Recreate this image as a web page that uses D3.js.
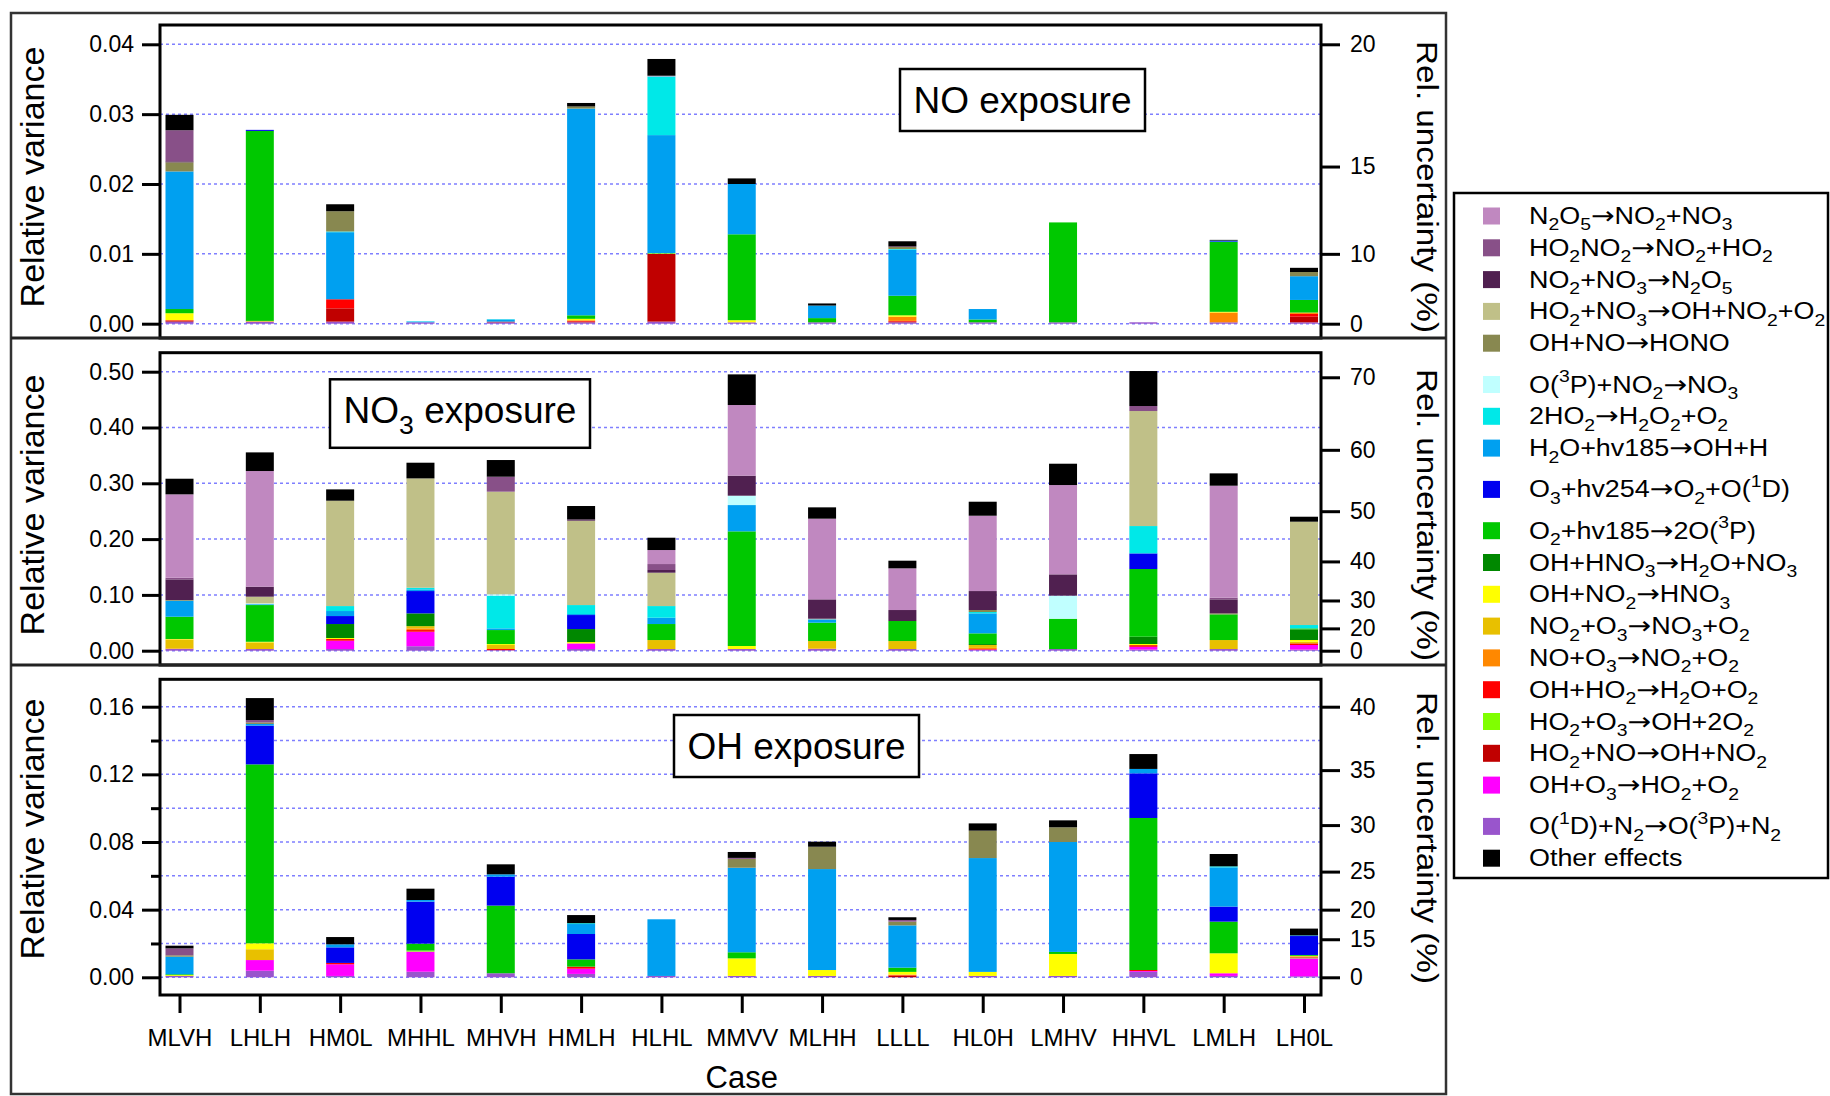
<!DOCTYPE html>
<html>
<head>
<meta charset="utf-8">
<script src="https://cdn.jsdelivr.net/npm/d3@7"></script>
<style>
  body { margin: 0; background: #fff; }
  svg { display: block; }
</style>
</head>
<body>
<svg id="chart" width="1830" height="1096"></svg>
<script>
// ---- data ---------------------------------------------------------------
const cases = ["MLVH","LHLH","HM0L","MHHL","MHVH","HMLH","HLHL","MMVV","MLHH","LLLL","HL0H","LMHV","HHVL","LMLH","LH0L"];

// reaction labels in legend order ("_x" = subscript, "^x" = superscript)
const seriesLabels = [
  "N_2O_5→NO_2+NO_3",
  "HO_2NO_2→NO_2+HO_2",
  "NO_2+NO_3→N_2O_5",
  "HO_2+NO_3→OH+NO_2+O_2",
  "OH+NO→HONO",
  "O(^3P)+NO_2→NO_3",
  "2HO_2→H_2O_2+O_2",
  "H_2O+hv185→OH+H",
  "O_3+hv254→O_2+O(^1D)",
  "O_2+hv185→2O(^3P)",
  "OH+HNO_3→H_2O+NO_3",
  "OH+NO_2→HNO_3",
  "NO_2+O_3→NO_3+O_2",
  "NO+O_3→NO_2+O_2",
  "OH+HO_2→H_2O+O_2",
  "HO_2+O_3→OH+2O_2",
  "HO_2+NO→OH+NO_2",
  "OH+O_3→HO_2+O_2",
  "O(^1D)+N_2→O(^3P)+N_2",
  "Other effects"
];

const seriesColors = [
  "#C088C0","#885088","#502050","#C0C088","#888850",
  "#C0FFFF","#00E8E8","#00A0F0","#0000F0","#00C800",
  "#008800","#FFFF00","#E8C000","#FF8800","#FF0000",
  "#80FF00","#C00000","#FF00FF","#9955CC","#000000"
];

// relative variance contributions, one row per reaction (legend order), one column per case
const noExposure = [
  [0,0,0,0,0,0,0.0001,0,0,0,0,0,0,0,0],
  [0.00445,0,0,0,0,0,0,0,0,0,0,0,0,0,0],
  [0.00015,0,0,0,0,0,0,0,0,0.0001,0,0,0,0,0],
  [0,0,0,0,0,0,0,0,0,0,0,0,0,0,0],
  [0.0013,0,0.0029,0,0,0.0003,0,0,0,0.0003,0,0,0,0,0.0006],
  [0,0,0,0,0,0,0,0,0,0,0,0,0,0,0],
  [0,0,0.0001,0.00005,0.00005,0,0.0084,0,0,0.0001,0,0,0,0,0],
  [0.0197,0,0.0096,0.0001,0.0003,0.0296,0.0169,0.0072,0.0018,0.0066,0.0015,0,0,0.0001,0.0034],
  [0,0.00015,0,0,0,0,0,0,0,0,0,0,0,0.0001,0],
  [0.0006,0.0272,0,0,0,0.0005,0,0.0123,0.0006,0.0028,0.0004,0.0143,0,0.0100,0.0018],
  [0,0,0,0,0,0,0,0,0,0,0,0,0,0,0],
  [0.0010,0,0,0,0,0.0002,0,0.0003,0,0.0002,0,0,0,0.0001,0],
  [0,0.0001,0,0,0,0,0,0,0,0,0,0,0,0,0],
  [0,0,0,0,0,0.0001,0,0,0,0.0006,0,0,0,0.0014,0.0002],
  [0.0001,0,0.0013,0,0,0.0001,0,0,0,0.0001,0,0,0,0,0.0004],
  [0,0,0,0,0,0,0.0001,0,0,0,0,0,0,0,0],
  [0.0001,0,0.0019,0,0.0001,0.0001,0.0097,0,0,0.0001,0,0,0,0,0.0008],
  [0,0,0,0,0,0,0,0,0,0,0,0,0,0,0],
  [0.0003,0.0003,0.0003,0.0002,0.0002,0.0002,0.0003,0.0002,0.0002,0.0002,0.0002,0.0002,0.0002,0.0002,0.0002],
  [0.0022,0,0.0010,0,0,0.0005,0.0024,0.0008,0.0003,0.0007,0,0,0,0.0001,0.0006]
];

const no3Exposure = [
  [0.1494,0.2073,0,0,0,0,0.0251,0.1267,0.1446,0.0747,0.1350,0.1601,0,0.2007,0],
  [0.0030,0,0,0,0.0268,0,0.0107,0,0,0,0,0,0.0090,0.0030,0],
  [0.0370,0.0179,0,0,0,0.0024,0.0048,0.0358,0.0347,0.0197,0.0340,0.0382,0,0.0251,0],
  [0,0.0120,0.1888,0.1959,0.1840,0.1512,0.0598,0,0.0011,0,0,0,0.2061,0,0.1852],
  [0.0012,0,0,0,0,0,0,0,0,0,0.0036,0,0,0.0018,0],
  [0,0.0015,0,0,0.0024,0,0,0.0168,0,0,0,0.0413,0,0,0],
  [0,0,0.0089,0.0030,0.0586,0.0161,0.0209,0,0,0,0.0024,0,0.0490,0,0.0060],
  [0.0287,0.0015,0.0090,0.0030,0.0030,0.0018,0.0113,0.0471,0.0060,0,0.0358,0,0,0,0],
  [0,0,0.0143,0.0400,0,0.0251,0,0,0,0,0,0,0.0280,0,0],
  [0.0399,0.0658,0,0,0.0251,0,0.0287,0.2055,0.0329,0.0359,0.0192,0.0543,0.1213,0.0460,0.0018],
  [0,0,0.0251,0.0229,0,0.0233,0,0,0,0,0.0017,0,0.0131,0,0.0190],
  [0.0007,0.0011,0.0018,0,0.0017,0.0024,0,0.0054,0,0,0,0,0.0020,0,0.0030],
  [0.0163,0.0119,0,0.0040,0.0072,0,0.0161,0,0.0133,0.0143,0.0052,0,0,0.0161,0.0030],
  [0.0010,0,0,0.0030,0,0,0,0,0.0010,0,0.0020,0,0,0,0],
  [0,0,0.0030,0.0030,0.0020,0,0,0,0,0,0.0010,0,0.0030,0,0.0030],
  [0,0,0,0,0,0,0,0,0,0,0,0,0,0,0],
  [0,0,0,0,0,0,0,0,0,0,0,0,0,0,0],
  [0,0,0.0149,0.0260,0,0.0101,0,0,0,0,0.0010,0,0.0050,0,0.0082],
  [0.003,0.003,0.003,0.008,0.001,0.003,0.003,0.003,0.003,0.003,0.001,0.003,0.002,0.003,0.002],
  [0.0280,0.0334,0.0203,0.0281,0.0299,0.0239,0.0221,0.0549,0.0203,0.0137,0.0251,0.0382,0.0627,0.0221,0.0089]
];

const ohExposure = [
  [0,0,0,0,0,0,0,0,0,0,0,0,0,0,0],
  [0.0041,0.0014,0,0,0,0,0,0.0006,0,0.0010,0,0,0,0,0],
  [0,0,0,0,0,0,0,0,0,0,0,0,0,0,0],
  [0,0,0,0,0,0,0,0,0,0,0,0,0,0,0],
  [0.0008,0.0009,0,0,0,0,0,0.0052,0.0132,0.0022,0.0162,0.0087,0,0,0],
  [0,0,0,0,0,0,0,0,0,0,0,0,0,0,0],
  [0,0,0,0,0,0.0005,0,0,0,0,0,0,0,0.0006,0],
  [0.0104,0.0010,0.0018,0.0010,0.0014,0.0059,0.0335,0.0500,0.0597,0.0250,0.0673,0.0650,0.0026,0.0232,0.0004],
  [0,0.0229,0.0092,0.0248,0.0171,0.0150,0,0,0,0,0,0,0.0264,0.0089,0.0112],
  [0.0005,0.1058,0,0.0041,0.0400,0.0043,0,0.0036,0,0.0025,0,0.0012,0.0899,0.0187,0.0005],
  [0,0,0,0,0,0,0,0,0,0,0,0,0,0,0],
  [0.0005,0.0035,0,0,0,0,0,0.0104,0.0035,0.0016,0.0024,0.0130,0,0.0118,0.0004],
  [0,0.0064,0,0,0,0,0,0,0,0,0,0,0,0,0],
  [0,0,0,0,0,0,0,0,0,0.0004,0,0,0,0,0],
  [0,0,0.0008,0,0,0.0012,0,0,0,0.0004,0,0,0.0006,0,0.0006],
  [0,0,0,0.0006,0,0,0,0,0,0,0,0,0,0,0.0005],
  [0,0,0,0,0,0,0,0,0,0.0008,0,0,0,0,0],
  [0,0.0063,0.0069,0.0119,0,0.0031,0,0,0,0,0,0,0.0005,0.0016,0.0106],
  [0.0008,0.0039,0.0008,0.0033,0.0024,0.0020,0.0008,0.0008,0.0008,0,0.0008,0.0008,0.0032,0.0008,0.0006],
  [0.0016,0.0130,0.0043,0.0067,0.0059,0.0048,0,0.0035,0.0030,0.0016,0.0043,0.0041,0.0088,0.0073,0.0040]
];

// axis ticks
const noTicks = [0, 0.01, 0.02, 0.03, 0.04];
const noUncTicks = [0, 10, 15, 20];
const no3Ticks = [0, 0.1, 0.2, 0.3, 0.4, 0.5];
const no3UncTicks = [0, 20, 30, 40, 50, 60, 70];
const ohTicks = [0, 0.04, 0.08, 0.12, 0.16];
const ohMinorTicks = [0.02, 0.06, 0.10, 0.14];
const ohGrid = [0, 0.02, 0.04, 0.06, 0.08, 0.10, 0.12, 0.14, 0.16];
const ohUncTicks = [0, 15, 20, 25, 30, 35, 40];

// ---- layout -------------------------------------------------------------
const FONT = '"Liberation Sans", Arial, Helvetica, sans-serif';
const ARROW_FONT = '"DejaVu Sans", "Liberation Sans", sans-serif';
const plotLeft = 160, plotRight = 1321;
const barWidth = 28;

const panels = [
  { rows: noExposure, ticks: noTicks, grid: noTicks, minor: [], unc: noUncTicks, vmax: 0.04,
    top: 25, bottom: 338, zeroY: 323.7, maxY: 44.3, label: "NO exposure",
    box: { x: 900, y: 69, w: 245, h: 62 }, leftTitleY: 177, rightTitleY: 187 },
  { rows: no3Exposure, ticks: no3Ticks, grid: no3Ticks, minor: [], unc: no3UncTicks, vmax: 0.5,
    top: 352.7, bottom: 665, zeroY: 650.7, maxY: 371.7, label: "NO_3 exposure",
    box: { x: 330, y: 379.3, w: 260, h: 68.5 }, leftTitleY: 505, rightTitleY: 515 },
  { rows: ohExposure, ticks: ohTicks, grid: ohGrid, minor: ohMinorTicks, unc: ohUncTicks, vmax: 0.16,
    top: 679.3, bottom: 995, zeroY: 977.3, maxY: 706.7, label: "OH exposure",
    box: { x: 674, y: 715, w: 245, h: 62 }, leftTitleY: 829, rightTitleY: 838, xAxis: true }
];

// stacking: last legend entry at the bottom, "Other effects" always on top
const stackOrder = d3.range(seriesLabels.length - 1).reverse().concat([seriesLabels.length - 1]);

const svg = d3.select("#chart");

// writes a label with sub/superscripts (and a centred reaction arrow) as tspans
function richText(textSel, str, size) {
  const parts = [];
  let buf = "";
  const flush = () => { if (buf) { parts.push({ t: buf, k: "n" }); buf = ""; } };
  for (let i = 0; i < str.length; i++) {
    const c = str[i];
    if ((c === "_" || c === "^") && i + 1 < str.length) {
      flush();
      parts.push({ t: str[i + 1], k: c === "_" ? "sub" : "sup" });
      i++;
    } else if (c === "→") {
      flush();
      parts.push({ t: c, k: "arrow" });
    } else buf += c;
  }
  flush();
  let cur = 0;
  parts.forEach(p => {
    const target = p.k === "sub" ? 0.28 * size : p.k === "sup" ? -0.45 * size : 0;
    const ts = textSel.append("tspan")
      .attr("dy", (target - cur).toFixed(2))
      .attr("font-size", (p.k === "sub" || p.k === "sup") ? size * 0.72 : p.k === "arrow" ? size * 1.05 : size)
      .text(p.t);
    if (p.k === "arrow") ts.attr("font-family", ARROW_FONT);
    cur = target;
  });
}

const x = d3.scalePoint().domain(cases).range([179.5, 1304]);

// outer frame
svg.append("rect").attr("x", 11).attr("y", 13).attr("width", 1435).attr("height", 1081)
  .attr("fill", "none").attr("stroke", "#333").attr("stroke-width", 2.5);

panels.forEach(p => {
  const g = svg.append("g");
  const y = d3.scaleLinear().domain([0, p.vmax]).range([p.zeroY, p.maxY]);
  const yR = d3.scalePow().exponent(2).domain([0, 100]).range([y(0), y(1)]);

  // dotted grid
  g.append("g").selectAll("line").data(p.grid).join("line")
    .attr("x1", plotLeft).attr("x2", plotRight)
    .attr("y1", d => y(d)).attr("y2", d => y(d))
    .attr("stroke", "#7f7fff").attr("stroke-width", 1.5).attr("stroke-dasharray", "3,3");

  // stacked bars
  const table = cases.map((c, j) => {
    const o = { case: c };
    p.rows.forEach((r, i) => { o[i] = r[j]; });
    return o;
  });
  const stacked = d3.stack().keys(stackOrder)(table);
  g.append("g").selectAll("g").data(stacked).join("g")
    .attr("fill", s => seriesColors[s.key])
    .selectAll("rect").data(s => s.filter(d => d[1] - d[0] > 0)).join("rect")
    .attr("x", d => x(d.data.case) - barWidth / 2)
    .attr("width", barWidth)
    .attr("y", d => y(d[1]))
    .attr("height", d => Math.max(0, y(d[0]) - y(d[1])));

  // plot frame
  g.append("rect").attr("x", plotLeft).attr("y", p.top)
    .attr("width", plotRight - plotLeft).attr("height", p.bottom - p.top)
    .attr("fill", "none").attr("stroke", "#000").attr("stroke-width", 3);

  // left axis
  const left = g.append("g").attr("transform", `translate(${plotLeft},0)`)
    .call(d3.axisLeft(y).tickValues(p.ticks).tickSize(18).tickPadding(8).tickFormat(d3.format(".2f")));
  if (p.minor.length) {
    g.append("g").attr("transform", `translate(${plotLeft},0)`)
      .call(d3.axisLeft(y).tickValues(p.minor).tickSize(9).tickFormat(""))
      .call(a => a.select(".domain").remove())
      .selectAll("line").attr("stroke-width", 3);
  }
  // right axis: relative uncertainty = sqrt(relative variance)
  const right = g.append("g").attr("transform", `translate(${plotRight},0)`)
    .call(d3.axisRight(yR).tickValues(p.unc).tickSize(19).tickPadding(10).tickFormat(d3.format("d")));
  [left, right].forEach(a => {
    a.select(".domain").remove();
    a.selectAll("line").attr("stroke", "#000").attr("stroke-width", 3);
    a.selectAll("text").attr("font-family", FONT).attr("font-size", 23).attr("fill", "#000");
  });

  // axis titles
  g.append("text")
    .attr("transform", `translate(44,${p.leftTitleY}) rotate(-90)`)
    .attr("text-anchor", "middle").attr("font-family", FONT).attr("font-size", 34)
    .text("Relative variance");
  g.append("text")
    .attr("transform", `translate(1417,${p.rightTitleY}) rotate(90)`)
    .attr("text-anchor", "middle").attr("font-family", FONT).attr("font-size", 30)
    .attr("textLength", 292).attr("lengthAdjust", "spacingAndGlyphs")
    .text("Rel. uncertainty (%)");

  // panel label box
  g.append("rect").attr("x", p.box.x).attr("y", p.box.y).attr("width", p.box.w).attr("height", p.box.h)
    .attr("fill", "#fff").attr("stroke", "#000").attr("stroke-width", 2.5);
  const t = g.append("text")
    .attr("x", p.box.x + p.box.w / 2).attr("y", p.box.y + 44)
    .attr("text-anchor", "middle").attr("font-family", FONT).attr("font-size", 37);
  richText(t, p.label, 37);

  if (p.xAxis) {
    const bottom = g.append("g").attr("transform", `translate(0,${p.bottom})`)
      .call(d3.axisBottom(x).tickSize(18).tickPadding(16));
    bottom.select(".domain").remove();
    bottom.selectAll("line").attr("stroke", "#000").attr("stroke-width", 3);
    bottom.selectAll("text").attr("font-family", FONT).attr("font-size", 24).attr("fill", "#000");
    g.append("text").attr("x", x("MMVV")).attr("y", 1088)
      .attr("text-anchor", "middle").attr("font-family", FONT).attr("font-size", 31)
      .text("Case");
  }
});

// separators between the stacked panels
[338, 665].forEach(yy => {
  svg.append("line").attr("x1", 11).attr("x2", 1446).attr("y1", yy).attr("y2", yy)
    .attr("stroke", "#222").attr("stroke-width", 3);
});

// legend
const legend = svg.append("g");
legend.append("rect").attr("x", 1454).attr("y", 193).attr("width", 374).attr("height", 685)
  .attr("fill", "#fff").attr("stroke", "#000").attr("stroke-width", 2.5);
let rowY = 216;
seriesLabels.forEach((lab, i) => {
  if (i > 0) rowY += 31.8 + (lab.includes("^") ? 9.5 : 0);
  legend.append("rect").attr("x", 1483).attr("y", rowY - 8.5).attr("width", 17).attr("height", 17)
    .attr("fill", seriesColors[i]);
  const t = legend.append("text")
    .attr("transform", `translate(1529,${rowY + 8}) scale(1.17,1)`)
    .attr("font-family", FONT).attr("font-size", 23);
  richText(t, lab, 23);
});
</script>
</body>
</html>
